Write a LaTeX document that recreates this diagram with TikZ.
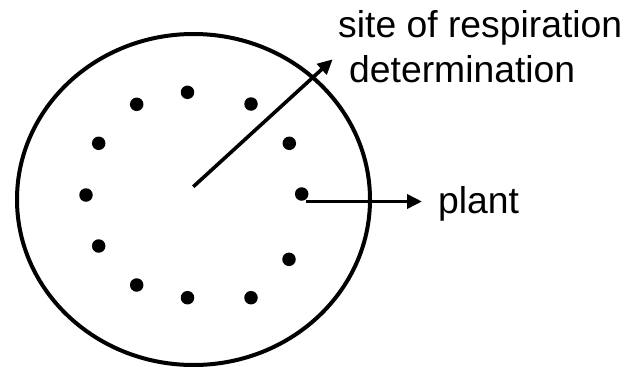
\documentclass[tikz,border=0pt]{standalone}
\usepackage{fontspec}
\setmainfont{Liberation Sans}
\usetikzlibrary{arrows.meta}
\begin{document}
\begin{tikzpicture}[x=1pt,y=-1pt,
  dotmark/.style={circle,fill=black,inner sep=0pt,minimum size=13.5pt},
  lbl/.style={anchor=base west,inner sep=0pt,font=\fontsize{37.3}{44}\selectfont},
  pointer/.style={line width=3.6pt,-{Triangle[length=15pt,width=14pt]}}]
\useasboundingbox (0,0) rectangle (627,367);
\draw[line width=4pt] (193.5,199.5) ellipse [x radius=176.5, y radius=165.5];
\foreach \n/\px/\py in {1/187.5/92.3, 2/251/104, 3/289.3/143.3, 4/301.7/194,
  5/289/259.3, 6/251/297.7, 7/187.5/297.7, 8/136.7/285, 9/98.7/246,
  10/86/195, 11/98.7/143.3, 12/136.7/104.3}
  \node[dotmark] (d\n) at (\px,\py) {};
\node[lbl] (site) at (338,37) {site of respiration};
\node[lbl] (det) at (349,82) {determination};
\node[lbl] (plant) at (438,213) {plant};
\coordinate (ctr) at (193.3,186.7);
\coordinate (tip1) at (332.7,59.3);
\coordinate (start2) at (306,201.5);
\coordinate (tip2) at (422,201.5);
\draw[pointer] (ctr) -- (tip1);
\draw[pointer] (start2) -- (tip2);
\end{tikzpicture}
\end{document}
